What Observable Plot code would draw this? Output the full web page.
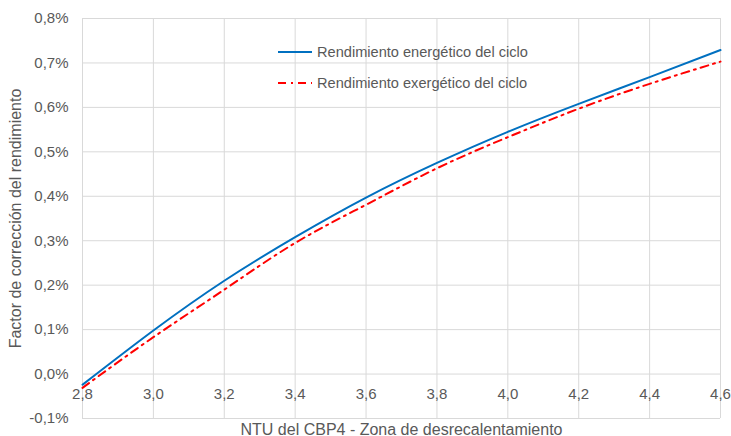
<!DOCTYPE html>
<html>
<head>
<meta charset="utf-8">
<script src="https://cdn.jsdelivr.net/npm/d3@7"></script>
<script src="https://cdn.jsdelivr.net/npm/@observablehq/plot@0.6"></script>
<style>
  html, body { margin: 0; padding: 0; background: #fff; }
  #wrap { position: relative; width: 731px; height: 436px; font-family: "Liberation Sans", Arial, sans-serif; }
  .leg { position: absolute; left: 278px; font-size: 14.6px; color: #595959; display: flex; align-items: center; white-space: nowrap; height: 20px; }
  .leg svg { margin-right: 4px; }
</style>
</head>
<body>
<div id="wrap"></div>
<script>
const ntu = [2.8, 3.0, 3.2, 3.4, 3.6, 3.8, 4.0, 4.2, 4.4, 4.6];
const energetico = [-0.024, 0.098, 0.210, 0.308, 0.397, 0.475, 0.545, 0.608, 0.668, 0.729];
const exergetico = [-0.031, 0.083, 0.190, 0.295, 0.381, 0.463, 0.533, 0.597, 0.653, 0.703];
const xTicks = [2.8, 3.0, 3.2, 3.4, 3.6, 3.8, 4.0, 4.2, 4.4, 4.6];
const yTicks = [-0.1, 0.0, 0.1, 0.2, 0.3, 0.4, 0.5, 0.6, 0.7, 0.8];
const seriesNames = ["Rendimiento energético del ciclo", "Rendimiento exergético del ciclo"];
const xTitle = "NTU del CBP4 - Zona de desrecalentamiento";
const yTitle = "Factor de corrección del rendimiento";

const blue = ntu.map((x, i) => ({x, y: energetico[i]}));
const red = ntu.map((x, i) => ({x, y: exergetico[i]}));
const comma = v => v.toFixed(1).replace(".", ",");
const pct = v => v.toFixed(1).replace(".", ",") + "%";

const chart = Plot.plot({
  width: 731,
  height: 436,
  marginLeft: 82,
  marginRight: 11,
  marginTop: 18,
  marginBottom: 18,
  style: {fontFamily: "Liberation Sans, Arial, sans-serif", fontSize: "15px", color: "#595959", background: "#fff"},
  x: {domain: [2.8, 4.6]},
  y: {domain: [-0.1, 0.8]},
  marks: [
    Plot.gridX(xTicks, {stroke: "#d9d9d9", strokeOpacity: 1, strokeWidth: 1}),
    Plot.gridY(yTicks, {stroke: "#d9d9d9", strokeOpacity: 1, strokeWidth: 1}),
    Plot.axisY(yTicks, {tickSize: 0, tickPadding: 14, tickFormat: pct, label: null, fontSize: 15, fill: "#595959"}),
    Plot.axisY({tickSize: 0, ticks: [], label: yTitle, labelArrow: "none", labelAnchor: "center", labelOffset: 73, fontSize: 16, fill: "#595959"}),
    Plot.axisX({tickSize: 0, ticks: [], label: xTitle, labelArrow: "none", labelAnchor: "center", labelOffset: 16, fontSize: 16, fill: "#595959"}),
    Plot.text(xTicks, {x: d => d, y: 0, dy: 20, text: comma, fill: "#595959", fontSize: 15}),
    Plot.line(red, {x: "x", y: "y", stroke: "#ff0000", strokeWidth: 2, strokeDasharray: "8,5,2,5", curve: "natural"}),
    Plot.line(blue, {x: "x", y: "y", stroke: "#0070c0", strokeWidth: 2, curve: "natural"})
  ]
});
const wrap = document.getElementById("wrap");
wrap.appendChild(chart);

const legendItems = [
  {name: seriesNames[0], color: "#0070c0", dash: null, top: 42},
  {name: seriesNames[1], color: "#ff0000", dash: "8,5,2,5", top: 73}
];
for (const it of legendItems) {
  const d = document.createElement("div");
  d.className = "leg";
  d.style.top = it.top + "px";
  d.innerHTML = `<svg width="35" height="20"><line x1="0" x2="34" y1="10" y2="10" stroke="${it.color}" stroke-width="2" ${it.dash ? `stroke-dasharray="${it.dash}"` : ""}/></svg><span>${it.name}</span>`;
  wrap.appendChild(d);
}
</script>
</body>
</html>
